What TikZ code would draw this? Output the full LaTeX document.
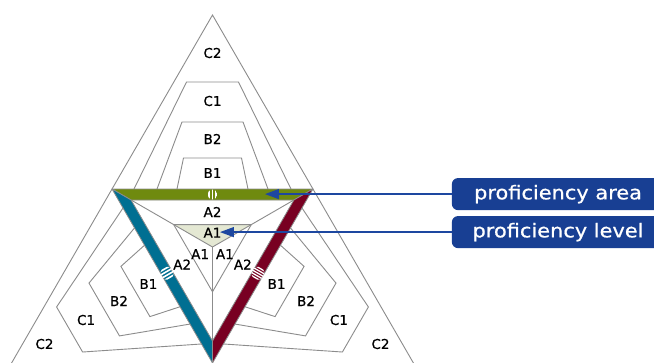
\documentclass[tikz,border=0pt]{standalone}
\usepackage{fontspec}
\setmainfont{DejaVu Sans}
\newfontfamily\labfont[FakeBold=0.7]{DejaVu Sans}
\newfontfamily\boxfont[FakeBold=0.6]{DejaVu Sans}
\usetikzlibrary{arrows.meta}
\definecolor{lgray}{HTML}{8C8C8C}
\definecolor{pgreen}{HTML}{6F8A0F}
\definecolor{pblue}{HTML}{006F92}
\definecolor{pred}{HTML}{780022}
\definecolor{aonefill}{HTML}{E4E8D3}
\definecolor{navy}{HTML}{183F93}
\definecolor{arrowblue}{HTML}{1D47A0}
\begin{document}
\begin{tikzpicture}[x=1pt,y=1pt,
  gl/.style={draw=lgray, line width=0.9pt, line join=miter},
  lab/.style={font=\labfont\fontsize{13.5}{15}\selectfont, text=black, inner sep=0pt},
  barline/.style={draw=lgray, line width=0.8pt, line join=round},
  pbox/.style={fill=navy, rounded corners=6pt, text=white, font=\boxfont\fontsize{19}{22}\selectfont, minimum height=32pt, minimum width=212.3pt, inner sep=0pt, anchor=west},
  parrow/.style={draw=arrowblue, line width=1.3pt, -{Triangle[length=14pt,width=10pt]}}
]
\useasboundingbox (-212.5,-115) rectangle (441.5,247);
\clip (-212.5,-115) rectangle (441.5,247);
\fill[white] (-212.5,-115) rectangle (441.5,247);

% pale A1 field
\fill[aonefill] (150:44.8) -- (30:44.8) -- (0,0) -- cycle;

% outer triangle sides
\draw[gl] (210:232) -- (90:232) -- (330:232);

% nested level outlines in the three sectors
\foreach \a in {0,120,240}{
  \begin{scope}[rotate=\a]
    \draw[gl] (-78.5,58) -- (-26,165) -- (26,165) -- (78.5,58);
    \draw[gl] (-55.5,58) -- (-30.5,125) -- (30.5,125) -- (55.5,58);
    \draw[gl] (-35.5,58) -- (-29,89) -- (29,89) -- (35.5,58);
  \end{scope}
}

% inner division
\draw[gl] (0,0) -- (150:94);
\draw[gl] (0,0) -- (30:94);
\draw[gl] (0,0) -- (270:94);
\draw[gl] (150:44.8) -- (30:44.8) -- (270:44.8) -- cycle;

% coloured bars
\filldraw[barline, fill=pgreen] (150:116) -- (30:116) -- (30:94) -- (150:94) -- cycle;
\filldraw[barline, fill=pblue] (150:116) -- (270:116) -- (270:94) -- (150:94) -- cycle;
\filldraw[barline, fill=pred] (30:116) -- (270:116) -- (270:94) -- (30:94) -- cycle;

% icons
\begin{scope}[shift={(90:52.5)}]
  \clip (0,0) circle (5);
  \foreach \x in {-3.33,0,3.33} \fill[white] (\x-0.8,-6) rectangle (\x+0.8,6);
\end{scope}
\begin{scope}[shift={(210:52.5)}, rotate=-60]
  \clip (0,0) circle (6.5);
  \foreach \x in {-4.875,-1.625,1.625,4.875} \fill[white] (\x-0.8,-7) rectangle (\x+0.8,7);
\end{scope}
\begin{scope}[shift={(330:52.5)}, rotate=60]
  \clip (0,0) circle (6.5);
  \foreach \x in {-5.2,-2.6,0,2.6,5.2} \fill[white] (\x-0.65,-7) rectangle (\x+0.65,7);
\end{scope}

% labels
\foreach \a in {90,210,330}{
  \node[lab] (ctwo\a) at (\a:194) {C2};
  \node[lab] (cone\a) at (\a:146) {C1};
  \node[lab] (btwo\a) at (\a:108) {B2};
  \node[lab] (bone\a) at (\a:74) {B1};
  \node[lab] (atwo\a) at (\a:35) {A2};
  \node[lab] (aone\a) at (\a:14.3) {A1};
}

% callouts
\coordinate (tipA) at (52.5,52.9);
\coordinate (tipL) at (7.5,14.9);
\node[pbox] (area) at (239.2,52.9) {\scalebox{1.1}[1]{proficiency area}};
\node[pbox] (level) at (239.2,14.9) {\scalebox{1.1}[1]{proficiency level}};
\draw[parrow] (area.west) -- (tipA);
\draw[parrow] (level.west) -- (tipL);
\end{tikzpicture}
\end{document}
